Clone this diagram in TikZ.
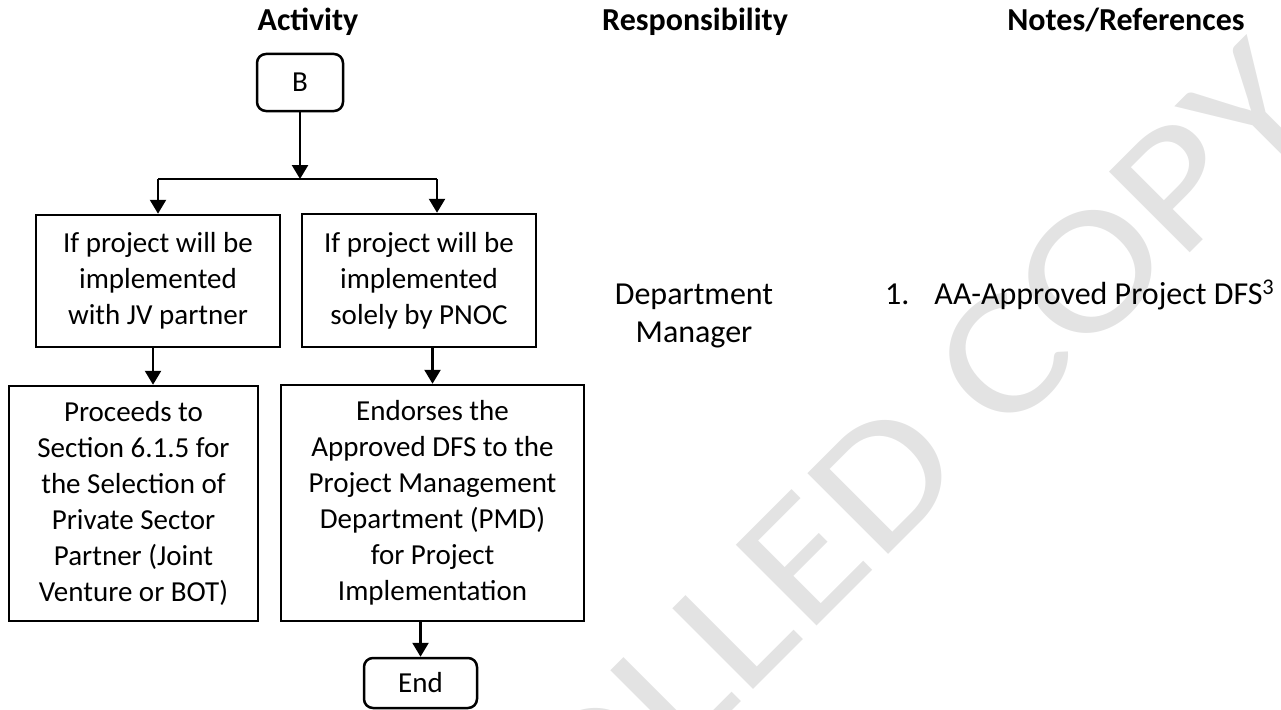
\documentclass[tikz,border=0pt]{standalone}
\usepackage{fontspec}
\setmainfont{Carlito}
\usetikzlibrary{arrows.meta}
\definecolor{wm}{HTML}{E3E3E3}
\tikzset{
  txt/.style={font=\fontsize{32}{38}\selectfont, inner sep=0pt},
  hdr/.style={font=\bfseries\fontsize{32}{38}\selectfont, inner sep=0pt, anchor=base},
  flowbox/.style={draw, line width=2.5pt, align=center, inner sep=0pt,
    font=\fontsize{29}{36}\selectfont},
  termbox/.style={flowbox, rounded corners=9pt},
  arr/.style={line width=2.5pt, -{Triangle[width=16pt,length=14pt]}},
  conn/.style={line width=2.5pt}
}
\begin{document}
\begin{tikzpicture}[x=1pt,y=-1pt]
\useasboundingbox (0,0) rectangle (1281,709);
% watermark
\begin{scope}
\clip (0,0) rectangle (1281,709);
\node[rotate=45, xscale=1.18, anchor=base west, text=wm, inner sep=0pt,
  font=\fontsize{178}{178}\selectfont] (wmk) at (806,637) {\llap{UNCONTROLL}ED COPY};
\end{scope}
% headers
\node[hdr] (h1) at (308,31) {Activity};
\node[hdr] (h2) at (695,31) {Responsibility};
\node[hdr] (h3) at (1126,31) {Notes/References};
% flow nodes
\node[termbox, minimum width=86pt, minimum height=57pt] (B) at (300,82.5) {B};
\node[flowbox, minimum width=244pt, minimum height=132pt] (box1) at (158,281)
  {If project will be\\implemented\\with JV partner};
\node[flowbox, minimum width=234pt, minimum height=133pt] (box2) at (419,280.5)
  {If project will be\\implemented\\solely by PNOC};
\node[flowbox, minimum width=249pt, minimum height=235pt] (box3) at (133.5,503.5)
  {Proceeds to\\Section 6.1.5 for\\the Selection of\\Private Sector\\Partner (Joint\\Venture or BOT)};
\node[flowbox, minimum width=303pt, minimum height=236pt] (box4) at (432.5,503)
  {Endorses the\\Approved DFS to the\\Project Management\\Department (PMD)\\for Project\\Implementation};
\node[termbox, minimum width=113pt, minimum height=50pt] (End) at (420.5,683) {End};
% side texts
\node[txt, align=center] (resp) at (694,316) {Department\\Manager};
\node[txt, anchor=base west] (note) at (885,304) {1.\hspace{25pt}AA-Approved Project DFS\textsuperscript{3}};
% connectors
\coordinate (J) at (300,179);
\coordinate (L) at (158,179);
\coordinate (R) at (437,179);
\draw[conn] (L) -- (R);
\draw[arr] (B) -- (J);
\draw[arr] (L) -- (L |- box1.north);
\draw[arr] (R) -- (R |- box2.north);
\draw[arr] ([xshift=-5pt]box1.south) -- ([xshift=-5pt]box1.south |- box3.north);
\draw[arr] (box4.north |- box2.south) -- (box4.north);
\draw[arr] (End.north |- box4.south) -- (End.north);
\end{tikzpicture}
\end{document}
